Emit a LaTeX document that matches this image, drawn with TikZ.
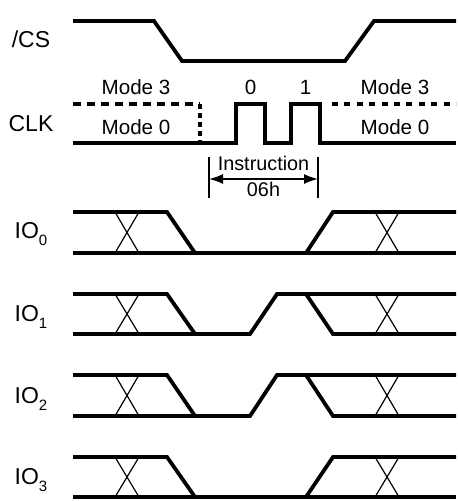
\documentclass[tikz,border=0pt]{standalone}
\usepackage{fontspec}
\setmainfont{Liberation Sans}
\usetikzlibrary{arrows.meta}

\newcommand{\iosub}[1]{\raisebox{-3.5pt}{\fontsize{7.5}{8}\selectfont #1}}

\begin{document}
\begin{tikzpicture}[x=0.5pt, y=-0.5pt,
  wave/.style={line width=1.9pt},
  dwave/.style={line width=1.9pt, dash pattern=on 4pt off 3pt},
  rdwave/.style={line width=1.9pt, dash pattern=on 3pt off 3.2pt},
  vdwave/.style={line width=1.9pt, dash pattern=on 2.5pt off 2pt},
  xing/.style={line width=0.6pt},
  sig/.style={font=\fontsize{11.5}{13}\selectfont, anchor=base, inner sep=0pt},
  lbl/.style={font=\fontsize{10.3}{12}\selectfont, anchor=base, inner sep=0pt}]
\useasboundingbox (0,0) rectangle (458,501);
% signal names
\node[sig] (cs) at (31,48) {/CS};
\node[sig] (clk) at (31,132) {CLK};
\node[sig] (io0) at (31,239) {IO\iosub{0}};
\node[sig] (io1) at (31,321) {IO\iosub{1}};
\node[sig] (io2) at (31,403) {IO\iosub{2}};
\node[sig] (io3) at (31,484) {IO\iosub{3}};
% /CS
\draw[wave] (73,21) -- (154,21) -- (182,61) -- (345,61) -- (374,21) -- (456,21);
% CLK
\draw[dwave] (73,104) -- (200,104);
\draw[vdwave] (200,104) -- (200,143);
\draw[rdwave] (332,104) -- (456,104);
\draw[wave] (73,143) -- (236,143) -- (236,104) -- (265,104) -- (265,143) -- (291,143)
  -- (291,104) -- (320,104) -- (320,143) -- (456,143);
\node[lbl] (m3l) at (136,95) {Mode 3};
\node[lbl] (m0l) at (136,135) {Mode 0};
\node[lbl] (b0) at (250.5,95) {0};
\node[lbl] (b1) at (305.5,95) {1};
\node[lbl] (m3r) at (395,95) {Mode 3};
\node[lbl] (m0r) at (395,135) {Mode 0};
% instruction
\draw[xing] (209,157) -- (209,198);
\draw[xing] (318,157) -- (318,198);
\coordinate (insl) at (209,179);
\coordinate (insr) at (318,179);
\draw[line width=0.8pt, {Latex[length=7pt,width=5pt]}-{Latex[length=7pt,width=5pt]}] (insl) -- (insr);
\node[lbl, font=\fontsize{9.9}{12}\selectfont] (ins) at (263.5,171) {Instruction};
\node[lbl, font=\fontsize{9.9}{12}\selectfont] (code) at (263.5,197) {06h};
% IO0 and IO3
\foreach \h/\l in {212/253, 457/497}{
  \draw[wave] (73,\h) -- (167,\h) -- (195,\l);
  \draw[wave] (73,\l) -- (456,\l);
  \draw[wave] (306,\l) -- (333,\h) -- (456,\h);
}
% IO1 and IO2
\foreach \h/\l in {294/334, 375/416}{
  \draw[wave] (73,\h) -- (167,\h) -- (195,\l) -- (250,\l) -- (277,\h) -- (456,\h);
  \draw[wave] (73,\l) -- (195,\l);
  \draw[wave] (306,\h) -- (333,\l) -- (456,\l);
}
% crossings
\foreach \h/\l in {212/253, 294/334, 375/416, 457/497}{
  \draw[xing] (115,\h) -- (139,\l);
  \draw[xing] (115,\l) -- (139,\h);
  \draw[xing] (375,\h) -- (399,\l);
  \draw[xing] (375,\l) -- (399,\h);
}
\end{tikzpicture}
\end{document}
